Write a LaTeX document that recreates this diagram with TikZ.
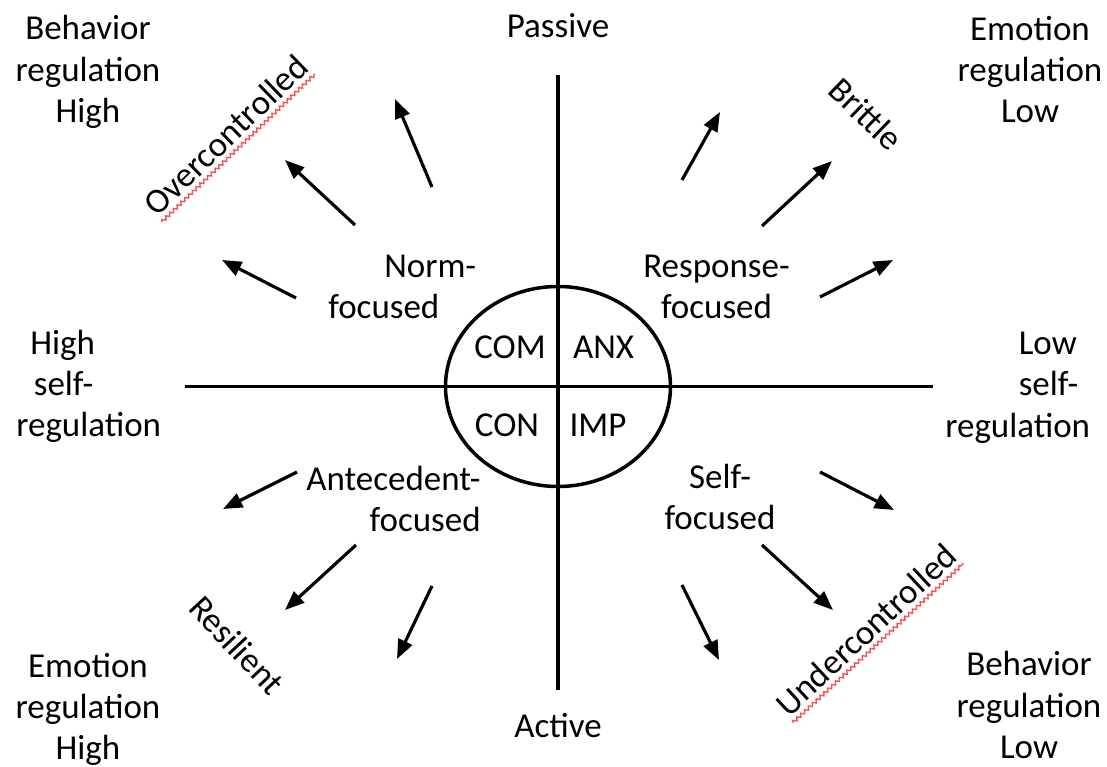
\documentclass[tikz,border=0pt]{standalone}
\usepackage{fontspec}
\setmainfont{Carlito}
\usetikzlibrary{shapes.geometric,arrows.meta,calc,decorations.pathmorphing}
\newcommand{\lblfont}{\fontsize{19.9pt}{23.5pt}\selectfont}
\definecolor{spellred}{RGB}{245,85,85}

\begin{document}
\begin{tikzpicture}[
  lbl/.style={font=\lblfont, inner sep=0pt, align=center},
  quadline/.style={line width=2pt},
  ray/.style={line width=1.8pt, -{Triangle[length=11pt,width=8.5pt]}},
  squiggle/.style={spellred, line width=0.8pt, decorate, decoration={snake, amplitude=0.9pt, segment length=3pt}}
]
\useasboundingbox (-11.16,-7.61) rectangle (10.98,7.73);

% axes and the core ellipse
\node[draw, ellipse, quadline, minimum width=4.5cm, minimum height=4cm, inner sep=0pt] (core) at (0,0) {};
\coordinate (ntop) at (0,6.23);
\coordinate (nbot) at (0,-6.07);
\coordinate (wend) at (-7.46,0);
\coordinate (eend) at (7.5,0);
\draw[quadline] (ntop) -- (nbot);
\draw[quadline] (wend) -- (eend);

\node[lbl, anchor=base] (com) at (-0.96,0.55) {COM};
\node[lbl, anchor=base] (anx) at (0.91,0.55) {ANX};
\node[lbl, anchor=base] (con) at (-1.02,-1.01) {CON};
\node[lbl, anchor=base] (imp) at (0.80,-1.01) {IMP};

% outer labels
\node[lbl, anchor=base] (passive) at (0,6.97) {Passive};
\node[lbl, anchor=base] (active) at (0,-7.03) {Active};
\node[lbl] (bhigh) at (-9.4,6.29) {Behavior\\regulation\\High};
\node[lbl] (elow) at (9.44,6.34) {Emotion\\regulation\\Low};
\node[lbl, align=left, anchor=west] (shigh) at (-10.84,0) {\hspace*{0.4em}High\\\hspace*{0.5em}self-\\regulation};
\node[lbl, align=left, anchor=west] (slow) at (7.74,-0.02) {\hspace*{2.1em}Low\\\hspace*{2.1em}self-\\regulation};
\node[lbl] (ehigh) at (-9.4,-6.46) {Emotion\\regulation\\High};
\node[lbl] (blow) at (9.42,-6.37) {Behavior\\regulation\\Low};

% strategies
\node[lbl, align=left, anchor=west] (norm) at (-4.6,1.99) {\hspace*{1.6em}Norm-\\focused};
\node[lbl] (resp) at (3.17,1.99) {Response-\\focused};
\node[lbl, align=right, anchor=east] (ante) at (-1.54,-2.25) {Antecedent-\\focused};
\node[lbl] (self) at (3.24,-2.21) {Self-\\focused};

% profiles
\node[lbl, rotate=44] (over) at (-6.64,5.03) {Overcontrolled};
\node[lbl, rotate=-44] (brit) at (6.16,5.45) {Brittle};
\node[lbl, rotate=-47] (resil) at (-6.42,-5.17) {Resilient};
\node[lbl, rotate=43] (under) at (6.16,-4.87) {Undercontrolled};
\draw[squiggle] ($(over.south west)!3pt!-90:(over.south east)$) -- ($(over.south east)!3pt!90:(over.south west)$);
\draw[squiggle] ($(under.south west)!3pt!-90:(under.south east)$) -- ($(under.south east)!3pt!90:(under.south west)$);

% arrows out of each quadrant
\foreach \k/\tx/\ty/\hx/\hy in {
  nwa/-4.06/3.23/-5.46/4.53, nwb/-2.52/3.99/-3.26/5.75, nwc/-5.24/1.77/-6.72/2.53,
  nea/2.48/4.13/3.24/5.49, neb/4.08/3.21/5.48/4.51, nec/5.24/1.79/6.70/2.53,
  swa/-5.22/-1.71/-6.70/-2.45, swb/-4.04/-3.17/-5.46/-4.47, swc/-2.52/-3.99/-3.22/-5.45,
  sea/5.24/-1.71/6.72/-2.47, seb/4.08/-3.17/5.50/-4.47, sec/2.48/-3.97/3.22/-5.47}
{
  \coordinate (t\k) at (\tx,\ty);
  \coordinate (h\k) at (\hx,\hy);
  \draw[ray] (t\k) -- (h\k);
}

\end{tikzpicture}
\end{document}
